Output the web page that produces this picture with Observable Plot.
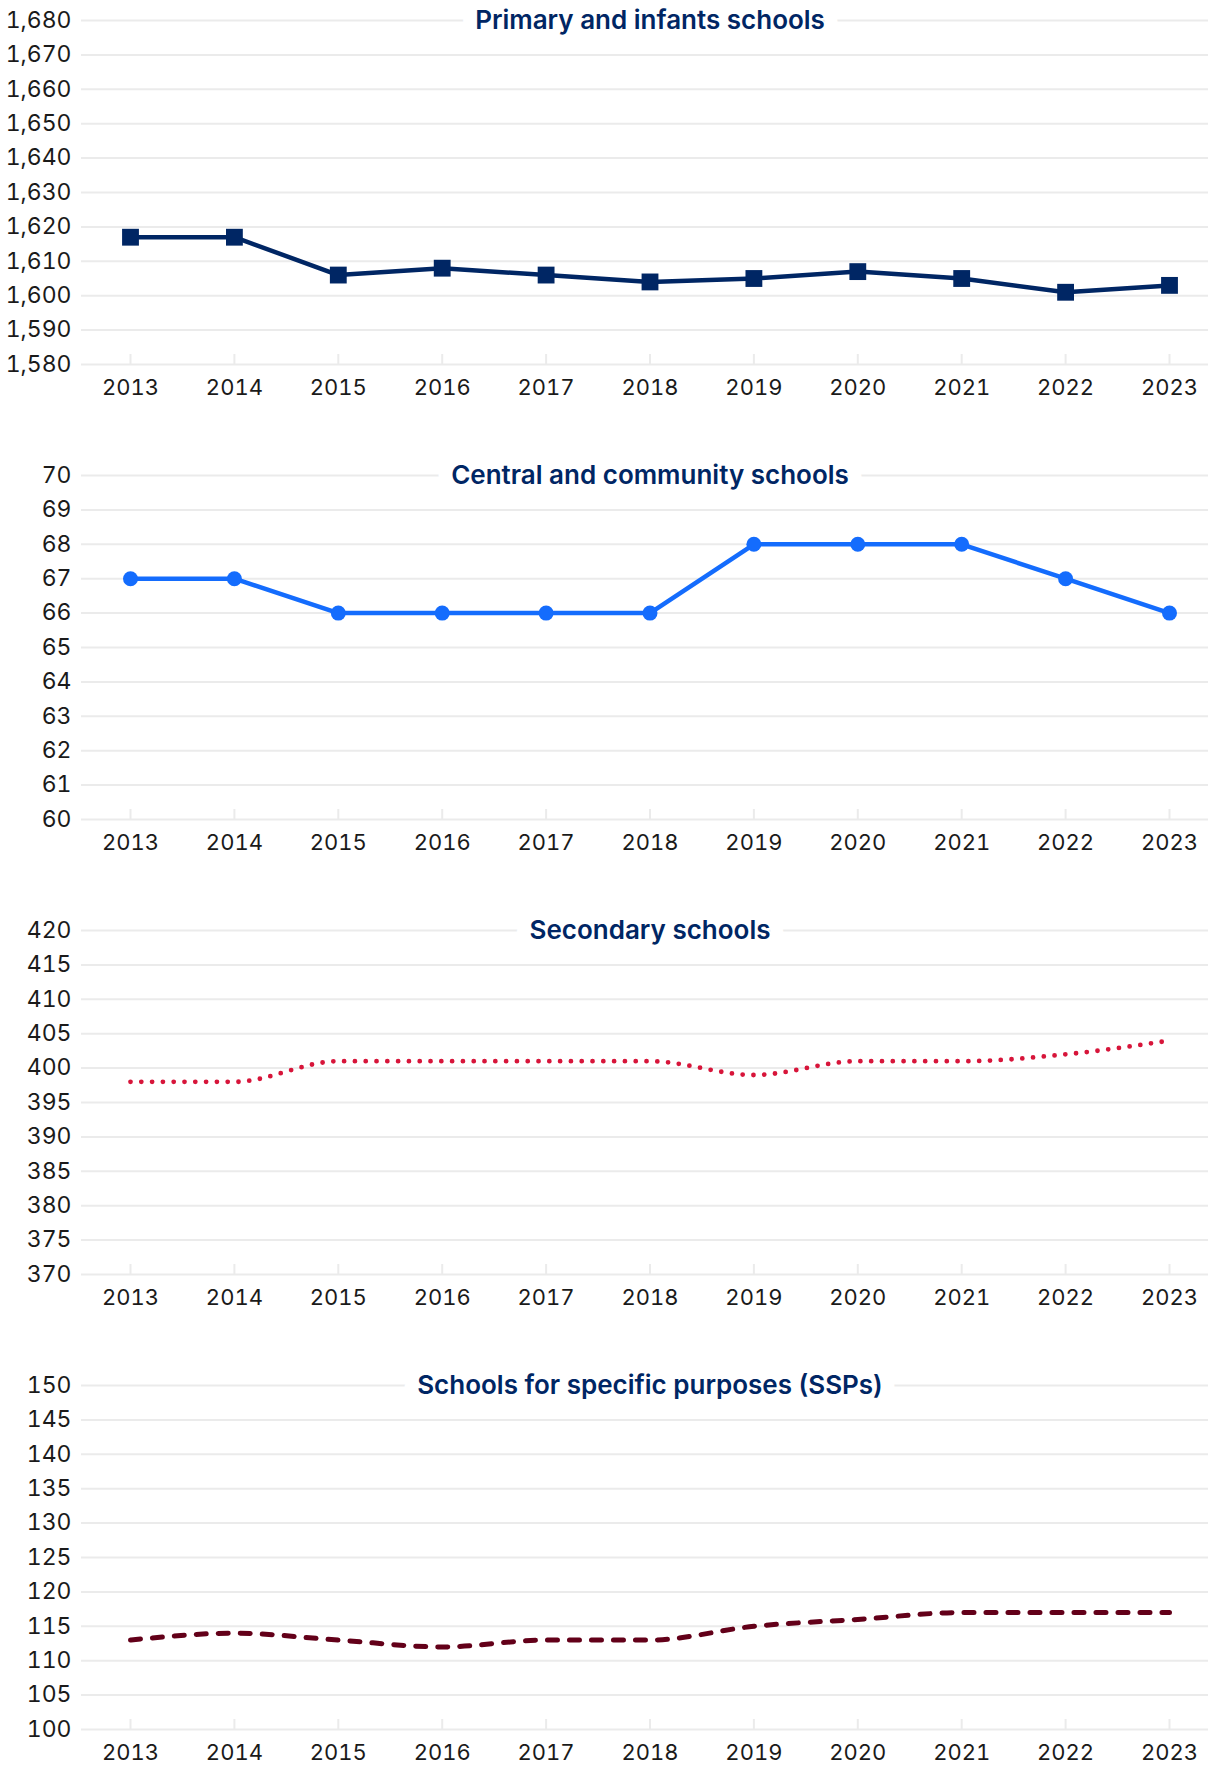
<!DOCTYPE html>
<html>
<head>
<meta charset="utf-8">
<script src="https://cdn.jsdelivr.net/npm/d3@7"></script>
<script src="https://cdn.jsdelivr.net/npm/@observablehq/plot@0.6"></script>
<style>
  html, body { margin: 0; padding: 0; background: #fff; }
  #chart svg { display: block; }
</style>
</head>
<body>
<div id="chart"></div>
<script>
// ---- Data ----
const years = [2013, 2014, 2015, 2016, 2017, 2018, 2019, 2020, 2021, 2022, 2023];

const primaryValues   = [1617, 1617, 1606, 1608, 1606, 1604, 1605, 1607, 1605, 1601, 1603];
const centralValues   = [67, 67, 66, 66, 66, 66, 68, 68, 68, 67, 66];
const secondaryValues = [398, 398, 401, 401, 401, 401, 399, 401, 401, 402, 404];
const sspValues       = [113, 114, 113, 112, 113, 113, 115, 116, 117, 117, 117];

const primaryTitle   = "Primary and infants schools";
const centralTitle   = "Central and community schools";
const secondaryTitle = "Secondary schools";
const sspTitle       = "Schools for specific purposes (SSPs)";

const primaryTicks   = [1580, 1590, 1600, 1610, 1620, 1630, 1640, 1650, 1660, 1670, 1680];
const centralTicks   = [60, 61, 62, 63, 64, 65, 66, 67, 68, 69, 70];
const secondaryTicks = [370, 375, 380, 385, 390, 395, 400, 405, 410, 415, 420];
const sspTicks       = [100, 105, 110, 115, 120, 125, 130, 135, 140, 145, 150];

// ---- Styling ----
const GRID = "#ebebeb";
const TEXT = "#1a1a1a";
const FONT = "Inter, 'Liberation Sans', Arial, sans-serif";
const fmtNum = d3.format(",d");

function panel({title, values, ticks, height, marginBottom, lineOpts, marker}) {
  const data = years.map((y, i) => ({year: y, value: values[i]}));
  const midYear = years[Math.floor(years.length / 2)];
  const marks = [
    Plot.gridY(ticks, {stroke: GRID, strokeOpacity: 1, strokeWidth: 2}),
    Plot.ruleX(years, {x: d => d, y1: ticks[0], y2: ticks[0], insetTop: -10, stroke: GRID, strokeWidth: 2}),
    Plot.axisY({ticks, tickSize: 0, tickPadding: 10, label: null, tickFormat: fmtNum, fontSize: 23}),
    Plot.axisX({ticks: years, tickSize: 0, tickPadding: 15, label: null, tickFormat: d => String(d), fontSize: 22}),
    Plot.line(data, {x: "year", y: "value", ...lineOpts})
  ];
  if (marker) {
    marks.push(Plot.dot(data, {x: "year", y: "value", ...marker}));
  }
  marks.push(Plot.text([title], {
    x: () => midYear, frameAnchor: "top", text: d => d, lineAnchor: "middle", textAnchor: "middle",
    fontSize: 26, fontWeight: 600, fill: "#002664",
    stroke: "white", strokeWidth: 28, strokeLinejoin: "round", paintOrder: "stroke"
  }));
  return Plot.plot({
    width: 1208,
    height,
    marginTop: 20,
    marginLeft: 81,
    marginRight: 0,
    marginBottom,
    x: {type: "linear", domain: [years[0], years[years.length - 1]], insetLeft: 49, insetRight: 39},
    y: {domain: [ticks[0], ticks[ticks.length - 1]]},
    style: {fontFamily: FONT, fontSize: "23px", color: TEXT, background: "white", overflow: "visible"},
    marks
  });
}

const chart = document.getElementById("chart");

chart.append(panel({
  title: primaryTitle, values: primaryValues, ticks: primaryTicks,
  height: 455, marginBottom: 91,
  lineOpts: {stroke: "#002664", strokeWidth: 4.5},
  marker: {symbol: "square", r: 9.5, fill: "#002664"}
}));

chart.append(panel({
  title: centralTitle, values: centralValues, ticks: centralTicks,
  height: 455, marginBottom: 91,
  lineOpts: {stroke: "#146cfd", strokeWidth: 4.5},
  marker: {symbol: "circle", r: 7.5, fill: "#146cfd"}
}));

chart.append(panel({
  title: secondaryTitle, values: secondaryValues, ticks: secondaryTicks,
  height: 455, marginBottom: 91,
  lineOpts: {stroke: "#d7153a", strokeWidth: 4.8, strokeDasharray: "0 10.8", strokeLinecap: "round", curve: "monotone-x"}
}));

chart.append(panel({
  title: sspTitle, values: sspValues, ticks: sspTicks,
  height: 401, marginBottom: 37,
  lineOpts: {stroke: "#630019", strokeWidth: 5, strokeDasharray: "10 12", strokeLinecap: "round", curve: "monotone-x"}
}));
</script>
</body>
</html>
